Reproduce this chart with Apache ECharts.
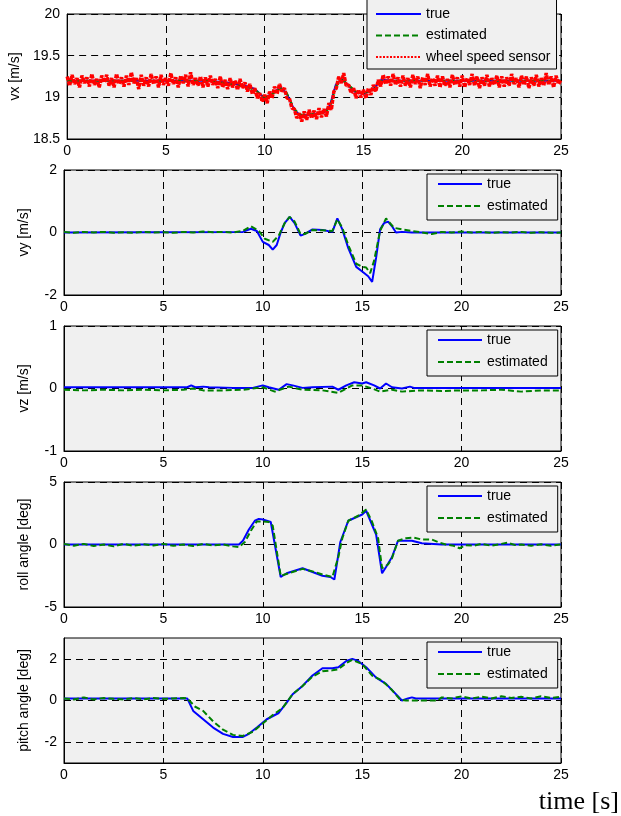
<!DOCTYPE html>
<html>
<head>
<meta charset="utf-8">
<script src="https://cdn.jsdelivr.net/npm/echarts@6/dist/echarts.min.js"></script>
<style>
  html, body { margin: 0; padding: 0; background: #fff; }
  #chart { width: 621px; height: 816px; }
</style>
</head>
<body>
<div id="chart"></div>
<script>
// time axis shared by all panels
const timeTicks = [0, 5, 10, 15, 20, 25];

// vx panel: underlying true / estimated curves [t, value]
const vxTrue = [[0,19.2],[7,19.2],[8,19.18],[9,19.14],[9.5,19.1],[10,18.99],[10.4,19.05],[10.8,19.12],[11.1,19.05],[11.5,18.85],[11.8,18.78],[12.5,18.8],[13,18.82],[13.3,18.9],[13.6,19.15],[13.9,19.22],[14.2,19.15],[14.6,19.06],[15,19.04],[15.5,19.1],[15.9,19.21],[16.5,19.2],[25,19.2]];
const vxEst = [[0,19.2],[7,19.2],[8,19.17],[9,19.13],[9.5,19.09],[10,19.0],[10.4,19.04],[10.8,19.11],[11.1,19.06],[11.5,18.86],[11.8,18.79],[12.5,18.8],[13,18.81],[13.3,18.88],[13.6,19.13],[13.9,19.21],[14.2,19.16],[14.6,19.07],[15,19.05],[15.5,19.09],[15.9,19.2],[16.5,19.2],[25,19.2]];

// wheel speed sensor samples, one every 0.125 s (8 per second)
const sensorStep = 0.125;
const sensorVx = [
  19.25,19.14,19.27,19.16,19.23,19.12,19.26,19.17,
  19.24,19.13,19.28,19.15,19.22,19.12,19.26,19.18,
  19.27,19.14,19.23,19.12,19.28,19.16,19.24,19.13,
  19.26,19.15,19.30,19.17,19.23,19.10,19.27,19.14,
  19.24,19.13,19.28,19.16,19.25,19.12,19.27,19.15,
  19.23,19.14,19.29,19.16,19.24,19.12,19.26,19.17,
  19.27,19.13,19.30,19.15,19.23,19.14,19.25,19.12,
  19.24,19.13,19.26,19.15,19.22,19.11,19.25,19.12,
  19.21,19.10,19.23,19.12,19.20,19.09,19.22,19.11,
  19.18,19.07,19.16,19.04,19.11,18.99,19.05,18.95,
  19.03,18.93,19.07,18.99,19.13,19.04,19.16,19.07,
  19.11,18.99,18.99,18.87,18.86,18.75,18.81,18.71,
  18.83,18.73,18.85,18.75,18.84,18.74,18.87,18.76,
  18.86,18.77,18.93,18.85,19.07,19.11,19.25,19.17,
  19.29,19.14,19.15,19.05,19.11,18.99,19.09,19.00,
  19.09,18.99,19.11,19.03,19.15,19.07,19.21,19.13,
  19.27,19.16,19.25,19.14,19.28,19.15,19.24,19.13,
  19.26,19.14,19.23,19.12,19.27,19.16,19.25,19.11,
  19.24,19.15,19.28,19.13,19.23,19.14,19.26,19.12,
  19.25,19.14,19.22,19.12,19.27,19.15,19.24,19.13,
  19.26,19.12,19.23,19.15,19.28,19.14,19.25,19.11,
  19.24,19.14,19.27,19.13,19.23,19.15,19.26,19.12,
  19.25,19.13,19.24,19.14,19.28,19.16,19.23,19.12,
  19.26,19.15,19.25,19.11,19.24,19.14,19.27,19.13,
  19.23,19.14,19.29,19.15,19.25,19.12,19.26,19.16,
  19.21
];

// vy panel
const vyTrue = [[0,0],[9,0.02],[9.4,0.12],[9.7,0.05],[10,-0.3],[10.3,-0.4],[10.5,-0.55],[10.7,-0.4],[10.9,0],[11.1,0.3],[11.35,0.5],[11.6,0.3],[11.9,-0.1],[12.1,-0.05],[12.5,0.1],[13,0.08],[13.5,0.02],[13.75,0.45],[14,0.1],[14.3,-0.5],[14.7,-1.1],[15,-1.25],[15.3,-1.4],[15.5,-1.58],[15.7,-0.8],[15.9,0.1],[16.1,0.3],[16.3,0.35],[16.5,0.2],[16.7,0],[17,0.02],[17.5,0],[25,0]];
const vyEst = [[0,0.02],[0.5,-0.01],[1,0.02],[1.5,0],[2,0.02],[2.5,-0.01],[3,0.01],[3.5,-0.01],[4,0.02],[4.5,0],[5,0.01],[5.5,-0.01],[6,0.02],[6.5,0],[7,0.03],[7.5,0.01],[8,0.02],[8.5,0],[9,0.05],[9.4,0.2],[9.8,0.05],[10.1,-0.2],[10.5,-0.3],[10.8,-0.1],[11.1,0.3],[11.35,0.5],[11.6,0.35],[11.9,-0.05],[12.1,-0.05],[12.5,0.08],[13,0.07],[13.5,0.05],[13.75,0.42],[14,0.15],[14.3,-0.4],[14.7,-1.0],[15,-1.1],[15.2,-1.12],[15.4,-1.3],[15.6,-0.9],[15.9,0.05],[16.2,0.45],[16.6,0.15],[17,0.1],[17.5,0.05],[18,0.0],[18.5,-0.05],[19,0.02],[19.5,0.0],[20,0.03],[20.5,0.0],[21,0.02],[21.5,-0.01],[22,0.01],[22.5,0.0],[23,0.02],[23.5,-0.01],[24,0.01],[24.5,-0.01],[25,0.0]];

// vz panel
const vzTrue = [[0,0.02],[6.2,0.02],[6.4,0.05],[6.6,0.02],[7,0.03],[7.3,0.02],[8.5,0.01],[9.5,0.01],[10,0.05],[10.3,0.02],[10.8,-0.02],[11.2,0.07],[11.5,0.05],[12,0.01],[12.5,0.02],[13.5,0.03],[13.8,-0.02],[14.2,0.05],[14.6,0.1],[15,0.08],[15.2,0.1],[15.6,0.05],[15.9,0.0],[16.2,0.08],[16.5,0.02],[17,0.0],[17.4,0.03],[17.6,0.01],[25,0.01]];
const vzEst = [[0,-0.02],[1,-0.03],[2,-0.02],[3,-0.03],[4,-0.02],[5,-0.03],[6,-0.02],[6.5,0.0],[7,-0.03],[8,-0.03],[9,-0.02],[10,0.02],[10.6,-0.05],[11.3,0.03],[12,-0.02],[13,-0.03],[13.8,-0.07],[14.5,0.05],[15,0.05],[15.5,0.0],[15.9,-0.05],[16.5,-0.02],[17,-0.05],[18,-0.03],[19,-0.04],[20,-0.03],[21,-0.03],[22,-0.02],[23,-0.05],[24,-0.03],[25,-0.03]];

// roll angle panel
const rollTrue = [[0,0],[8.8,0],[9,0.3],[9.3,1.2],[9.6,1.9],[9.8,2.05],[10,2.0],[10.4,1.8],[10.9,-2.6],[11.2,-2.3],[12,-1.9],[12.5,-2.2],[13,-2.5],[13.4,-2.6],[13.6,-2.8],[13.9,0.2],[14.3,1.9],[15,2.4],[15.2,2.7],[15.7,0.8],[16,-2.3],[16.2,-1.8],[16.5,-1.0],[16.8,0.3],[17.5,0.3],[18,0.1],[19,0],[25,0]];
const rollEst = [[0,0.05],[0.5,-0.1],[1,0.05],[1.5,-0.12],[2,0],[2.5,-0.15],[3,0.05],[3.5,-0.1],[4,0.02],[4.5,-0.08],[5,0.05],[5.5,-0.1],[6,0],[6.5,-0.12],[7,0.05],[7.5,-0.08],[8,0],[8.5,-0.15],[8.8,-0.2],[9.1,0.2],[9.4,1.1],[9.7,1.85],[10,1.85],[10.3,1.8],[10.5,1.5],[10.9,-2.5],[11.3,-2.3],[12,-1.95],[12.5,-2.15],[13,-2.4],[13.5,-2.6],[13.8,-1.0],[14,0.5],[14.3,1.9],[14.8,2.3],[15.2,2.8],[15.5,1.8],[15.8,0.5],[16,-1.9],[16.3,-1.6],[16.5,-1.1],[16.8,0.3],[17.2,0.5],[17.6,0.55],[18,0.4],[18.5,0.4],[18.8,0.2],[19.2,0],[19.6,-0.1],[19.9,-0.3],[20.2,-0.05],[20.6,-0.1],[21,0.05],[21.5,-0.1],[22,0.05],[22.3,0.15],[22.7,-0.05],[23,0],[23.5,-0.1],[24,0.02],[24.5,-0.1],[25,0]];

// pitch angle panel
const pitchTrue = [[0,0.1],[6.2,0.1],[6.5,-0.5],[7,-0.9],[7.5,-1.3],[8,-1.6],[8.5,-1.75],[9,-1.75],[9.3,-1.6],[9.7,-1.3],[10.2,-0.9],[10.8,-0.6],[11.2,-0.1],[11.5,0.3],[12,0.7],[12.5,1.2],[13,1.55],[13.5,1.55],[13.8,1.6],[14.2,1.9],[14.5,2.0],[14.8,1.9],[15.2,1.6],[15.7,1.1],[16.2,0.8],[16.6,0.4],[17,0],[17.3,0.1],[17.5,0.15],[17.7,0.1],[25,0.1]];
const pitchEst = [[0,0.1],[0.5,0.05],[1,0.15],[1.5,0.05],[2,0.12],[2.5,0.08],[3,0.05],[3.5,0.12],[4,0.06],[4.5,0.12],[5,0.08],[5.5,0.1],[6,0.12],[6.2,0.1],[6.6,-0.3],[7,-0.5],[7.5,-1.0],[8,-1.4],[8.5,-1.65],[9,-1.7],[9.5,-1.5],[10,-1.1],[10.5,-0.7],[11,-0.35],[11.5,0.3],[12,0.7],[12.5,1.15],[13,1.4],[13.5,1.45],[13.8,1.5],[14.2,1.8],[14.5,1.95],[15,1.75],[15.5,1.2],[16,0.95],[16.5,0.5],[16.9,0.05],[17.2,0],[18,0],[18.8,0],[19,0.15],[19.5,0.1],[20,0.2],[20.5,0.1],[21,0.18],[21.5,0.1],[22,0.2],[22.5,0.12],[23,0.18],[23.5,0.1],[24,0.2],[24.5,0.12],[25,0.18]];

// y axes of the five panels
const panelNames = ['vx [m/s]', 'vy [m/s]', 'vz [m/s]', 'roll angle [deg]', 'pitch angle [deg]'];
const panelMin = [18.5, -2, -1, -5, -3];
const panelMax = [20, 2, 1, 5, 3];
const panelStep = [0.5, 2, 1, 5, 1];
const pitchTicks = [-2, 0, 2];

const font = 'Liberation Sans, Arial, sans-serif';
const tops = [14, 170, 326, 482, 638];
const dash = { color: '#000', width: 1, type: [7, 5] };

const sensorData = sensorVx.map((v, i) => [i * sensorStep, v]);

const grids = tops.map(t => ({
  left: 64, top: t, width: 497, height: 125,
  show: true, backgroundColor: '#f0f0f0', borderColor: '#000', borderWidth: 1
}));

const xAxes = tops.map((t, i) => ({
  type: 'value', gridIndex: i, min: 0, max: 25, interval: 5,
  axisLine: { show: true, onZero: false, lineStyle: { color: '#000' } },
  axisTick: { show: true, inside: true, length: 4, lineStyle: { color: '#000' } },
  axisLabel: { color: '#000', fontSize: 14, fontFamily: font, margin: 5 },
  splitLine: { show: true, lineStyle: dash }
}));

const yAxes = tops.map((t, i) => ({
  type: 'value', gridIndex: i,
  min: panelMin[i], max: panelMax[i], interval: panelStep[i],
  name: panelNames[i], nameLocation: 'middle', nameGap: 33,
  nameTextStyle: { color: '#000', fontSize: 14, fontFamily: font },
  axisLine: { show: true, onZero: false, lineStyle: { color: '#000' } },
  axisTick: { show: i !== 4, inside: true, length: 4, lineStyle: { color: '#000' } },
  axisLabel: {
    color: '#000', fontSize: 14, fontFamily: font, margin: 7,
    formatter: i === 4 ? (v => pitchTicks.indexOf(v) >= 0 ? String(v) : '') : null
  },
  splitLine: { show: i !== 4, lineStyle: dash }
}));

function line(name, data, idx, kind, extra) {
  const styles = {
    true: { color: '#0000ff', width: 2, type: 'solid' },
    est: { color: '#008000', width: 2, type: [6, 3] },
    sensor: { color: '#ff0000', width: 3.5, type: [4, 1] }
  };
  return Object.assign({
    name: name, type: 'line', xAxisIndex: idx, yAxisIndex: idx,
    data: data, symbol: 'none', showSymbol: false, z: 3,
    itemStyle: { color: styles[kind].color },
    lineStyle: styles[kind]
  }, extra || {});
}

const series = [
  line('true', vxTrue, 0, 'true'),
  line('estimated', vxEst, 0, 'est'),
  line('wheel speed sensor', sensorData, 0, 'sensor'),
  line('true', vyTrue, 1, 'true'),
  line('estimated', vyEst, 1, 'est'),
  line('true', vzTrue, 2, 'true'),
  line('estimated', vzEst, 2, 'est'),
  line('true', rollTrue, 3, 'true'),
  line('estimated', rollEst, 3, 'est'),
  line('true', pitchTrue, 4, 'true', {
    markLine: {
      silent: true, symbol: 'none', z: 1, label: { show: false },
      lineStyle: dash,
      data: pitchTicks.map(v => ({ yAxis: v }))
    }
  }),
  line('estimated', pitchEst, 4, 'est')
];

const legendText = { color: '#000', fontSize: 14, fontFamily: font, lineHeight: 14 };
const legendBase = {
  orient: 'vertical', itemHeight: 14,
  backgroundColor: '#f0f0f0', borderColor: '#000', borderWidth: 1,
  textStyle: legendText, selectedMode: false,
  itemStyle: { opacity: 0 }
};
const legends = [Object.assign({}, legendBase, {
  left: 367, top: -6, padding: [13, 6, 5, 8], itemWidth: 45, itemGap: 7.5,
  data: ['true', 'estimated', { name: 'wheel speed sensor', lineStyle: { width: 2, type: [2, 1.5] } }]
})].concat(tops.slice(1).map(t => Object.assign({}, legendBase, {
  left: 427, top: t + 4, padding: [3, 10, 7, 10], itemWidth: 44, itemGap: 8,
  data: ['true', 'estimated']
})));

const chart = echarts.init(document.getElementById('chart'));
chart.setOption({
  animation: false,
  backgroundColor: '#fff',
  title: {
    text: 'time [s]', right: 2, top: 789, padding: 0,
    textStyle: { fontFamily: 'Liberation Serif, Times New Roman, serif', fontSize: 26, fontWeight: 'normal', color: '#000' }
  },
  legend: legends,
  grid: grids,
  xAxis: xAxes,
  yAxis: yAxes,
  series: series
});
</script>
</body>
</html>
